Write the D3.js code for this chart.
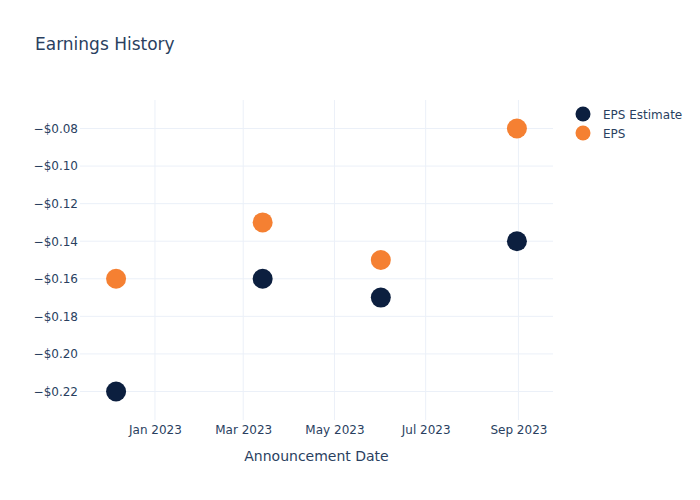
<!DOCTYPE html>
<html>
<head>
<meta charset="utf-8">
<script src="https://cdn.jsdelivr.net/npm/d3@7"></script>
<style>
  body { margin: 0; background: #fff; }
  svg { font-family: "DejaVu Sans", sans-serif; }
</style>
</head>
<body>
<svg id="chart" width="700" height="500"></svg>
<script>
const dates = ["2022-12-06", "2023-03-14", "2023-06-01", "2023-08-31"];
const epsEstimate = [-0.22, -0.16, -0.17, -0.14];
const eps = [-0.16, -0.13, -0.15, -0.08];
const seriesNames = ["EPS Estimate", "EPS"];
const seriesColors = ["#0c1f3f", "#f58032"];
const yTicks = [-0.22, -0.20, -0.18, -0.16, -0.14, -0.12, -0.10, -0.08];

const W = 700, H = 500;
const m = { l: 80, r: 147, t: 100, b: 80 };
const FONT = "'DejaVu Sans', sans-serif";
const svg = d3.select("#chart");
const parse = d3.timeParse("%Y-%m-%d");
const dd = dates.map(parse);

const xExt = d3.extent(dd);
const xSpan = xExt[1] - xExt[0];
const xPad = xSpan * 0.09;
const x = d3.scaleTime()
  .domain([new Date(+xExt[0] - xPad), new Date(+xExt[1] + xPad)])
  .range([m.l, W - m.r]);

const allY = epsEstimate.concat(eps);
const yMin = d3.min(allY), yMax = d3.max(allY);
const yPad = (yMax - yMin) * 28.5 / 263;
const y = d3.scaleLinear()
  .domain([yMin - yPad, yMax + yPad])
  .range([H - m.b, m.t]);

const grid = "#ebf0f8", txt = "#2a3f5f";

// x grid
const xTicks = d3.timeMonth.every(2).range(new Date(2023, 0, 1), x.domain()[1]);
svg.append("g").selectAll("line").data(xTicks).join("line")
  .attr("x1", d => x(d)).attr("x2", d => x(d))
  .attr("y1", m.t).attr("y2", H - m.b)
  .attr("stroke", grid).attr("stroke-width", 1);

// y grid
svg.append("g").selectAll("line").data(yTicks).join("line")
  .attr("x1", m.l).attr("x2", W - m.r)
  .attr("y1", d => y(d)).attr("y2", d => y(d))
  .attr("stroke", grid).attr("stroke-width", 1);

// y axis labels
const fmt = v => (v < 0 ? "\u2212" : "") + "$" + Math.abs(v).toFixed(2);
const yAxis = d3.axisLeft(y).tickValues(yTicks).tickFormat(fmt).tickSize(0).tickPadding(2);
const ya = svg.append("g").attr("transform", `translate(${m.l},0)`).call(yAxis);
ya.select(".domain").remove();
ya.selectAll("text").attr("fill", txt).attr("font-size", 12).attr("font-family", FONT);

// x axis labels
const xAxis = d3.axisBottom(x).tickValues(xTicks).tickFormat(d3.timeFormat("%b %Y")).tickSize(0).tickPadding(5);
const xa = svg.append("g").attr("transform", `translate(0,${H - m.b})`).call(xAxis);
xa.select(".domain").remove();
xa.selectAll("text").attr("fill", txt).attr("font-size", 12).attr("font-family", FONT);

// axis title
svg.append("text").attr("x", (m.l + W - m.r) / 2).attr("y", 461)
  .attr("text-anchor", "middle").attr("fill", txt).attr("font-size", 14)
  .text("Announcement Date");

// title
svg.append("text").attr("x", 35).attr("y", 50)
  .attr("fill", txt).attr("font-size", 17).text("Earnings History");

// points
const series = [epsEstimate, eps];
series.forEach((vals, i) => {
  svg.append("g").selectAll("circle").data(vals).join("circle")
    .attr("cx", (d, j) => x(dd[j])).attr("cy", d => y(d))
    .attr("r", 10).attr("fill", seriesColors[i]);
});

// legend
const lg = svg.append("g");
seriesNames.forEach((n, i) => {
  lg.append("circle").attr("cx", 583).attr("cy", 114 + i * 19).attr("r", 7.5).attr("fill", seriesColors[i]);
  lg.append("text").attr("x", 603).attr("y", 114 + i * 19 + 4.5)
    .attr("fill", txt).attr("font-size", 12).text(n);
});
</script>
</body>
</html>
